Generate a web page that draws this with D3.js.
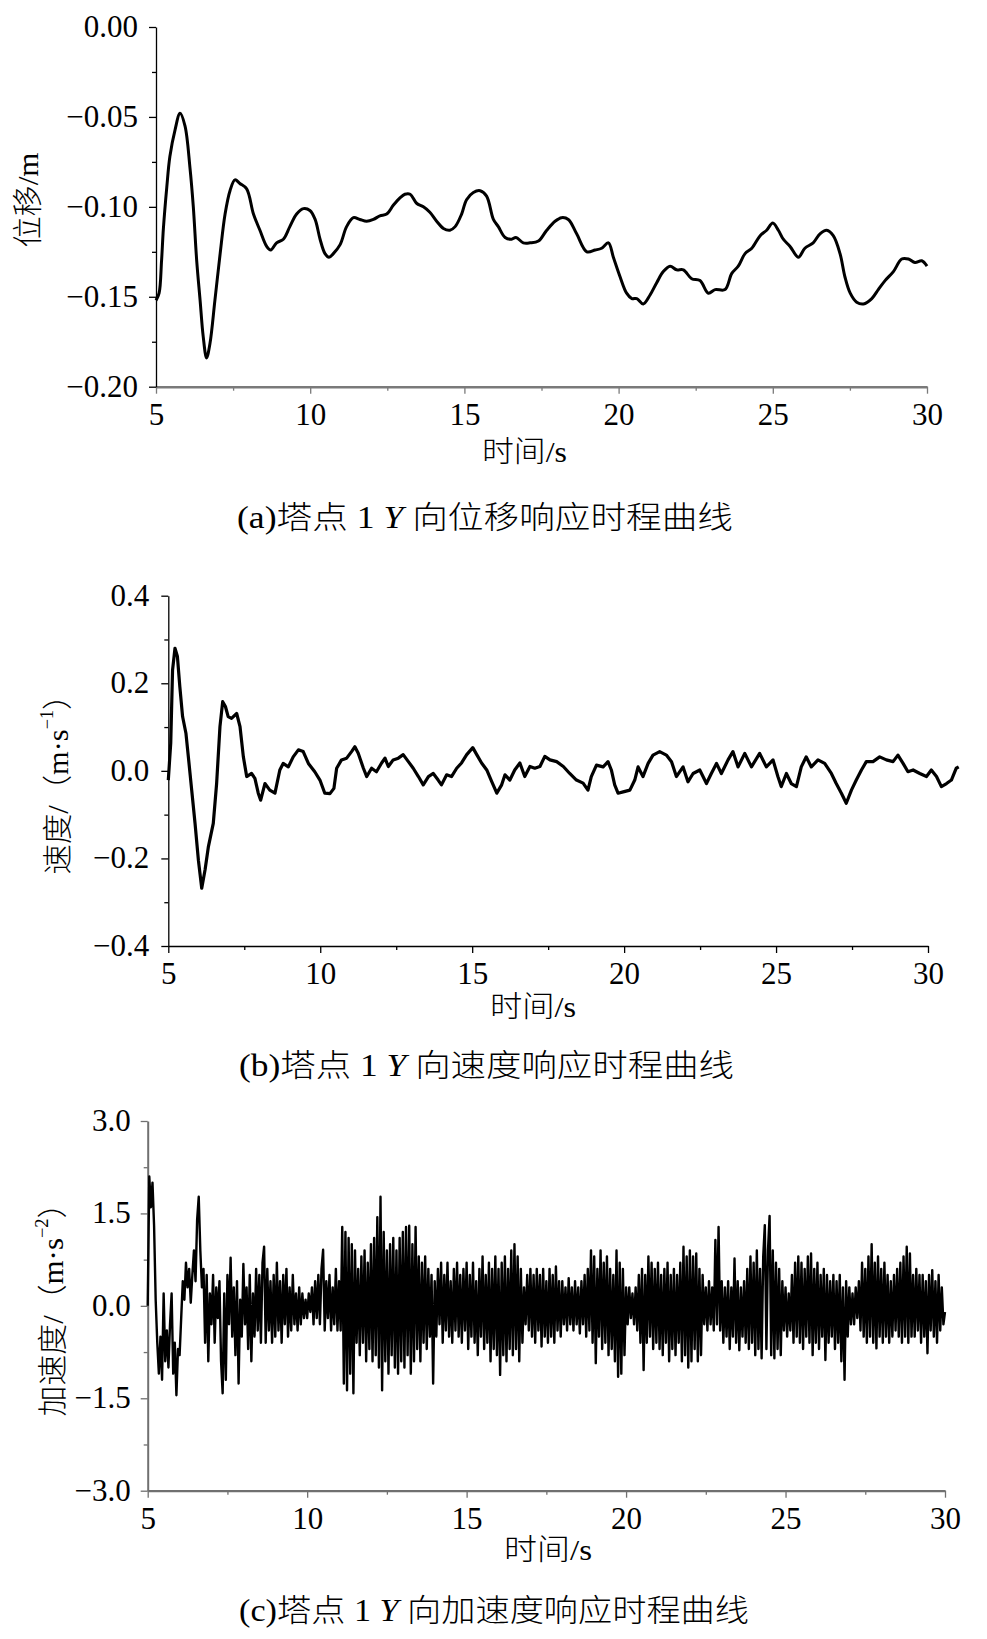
<!DOCTYPE html>
<html><head><meta charset="utf-8">
<script src="https://cdn.jsdelivr.net/npm/d3@7"></script>
<style>
body{margin:0;background:#fff;}
</style></head><body>
<svg id="c" width="987" height="1639" xmlns="http://www.w3.org/2000/svg"></svg>
<script>
// ---------- tick values ----------
const xTicks=[5,10,15,20,25,30];
const xMinor=[7.5,12.5,17.5,22.5,27.5];
const dispTicks=[0,-0.05,-0.10,-0.15,-0.20];
const dispMinor=[-0.025,-0.075,-0.125,-0.175];
const velTicks=[0.4,0.2,0,-0.2,-0.4];
const velMinor=[0.3,0.1,-0.1,-0.3];
const accTicks=[3,1.5,0,-1.5,-3];
const accMinor=[2.25,0.75,-0.75,-2.25];

// ---------- (a) displacement ----------
const dispTime=[5.00,5.10,5.18,5.24,5.35,5.45,5.62,5.78,5.94,6.10,6.21,6.32,6.43,6.53,6.64,6.75,6.91,7.08,7.24,7.40,
7.56,7.72,7.94,8.16,8.37,8.59,8.72,8.91,9.13,9.34,9.56,9.78,9.99,10.16,10.32,10.48,10.61,10.75,10.97,11.18,
11.40,11.61,11.83,12.05,12.26,12.48,12.70,12.91,13.07,13.24,13.45,13.67,13.88,14.10,14.32,14.53,14.70,14.91,15.07,15.29,
15.51,15.72,15.94,16.10,16.32,16.53,16.67,16.91,17.13,17.40,17.67,17.94,18.15,18.37,18.64,18.97,19.24,19.45,19.67,19.83,
20.05,20.26,20.43,20.59,20.80,21.02,21.24,21.45,21.67,21.88,22.10,22.37,22.64,22.91,23.13,23.45,23.67,23.88,24.10,24.32,
24.59,24.80,25.00,25.18,25.34,25.56,25.83,26.04,26.31,26.53,26.75,26.96,27.18,27.34,27.51,27.72,27.94,28.21,28.42,28.64,
28.91,29.18,29.40,29.61,29.83,30.00];
const dispValue=[-0.152,-0.148,-0.130,-0.112,-0.089,-0.072,-0.057,-0.048,-0.055,-0.078,-0.100,-0.130,-0.152,-0.172,-0.184,-0.176,-0.152,-0.126,-0.104,-0.091,
-0.085,-0.087,-0.090,-0.104,-0.113,-0.122,-0.124,-0.120,-0.118,-0.111,-0.104,-0.101,-0.102,-0.107,-0.118,-0.126,-0.128,-0.126,-0.121,-0.111,
-0.106,-0.107,-0.108,-0.107,-0.105,-0.104,-0.099,-0.095,-0.093,-0.093,-0.098,-0.100,-0.103,-0.108,-0.112,-0.113,-0.111,-0.104,-0.096,-0.092,
-0.091,-0.094,-0.107,-0.111,-0.117,-0.118,-0.117,-0.120,-0.120,-0.119,-0.113,-0.108,-0.106,-0.107,-0.115,-0.125,-0.124,-0.123,-0.120,-0.128,
-0.139,-0.148,-0.151,-0.151,-0.154,-0.149,-0.142,-0.136,-0.133,-0.135,-0.135,-0.140,-0.141,-0.148,-0.146,-0.146,-0.137,-0.133,-0.126,-0.123,
-0.116,-0.113,-0.109,-0.113,-0.118,-0.122,-0.128,-0.123,-0.120,-0.115,-0.113,-0.116,-0.126,-0.139,-0.148,-0.153,-0.154,-0.151,-0.146,-0.141,
-0.136,-0.129,-0.129,-0.131,-0.130,-0.133];

// ---------- (b) velocity ----------
const velTime=[5.00,5.08,5.14,5.22,5.30,5.38,5.47,5.58,5.66,5.77,5.88,5.99,6.10,6.21,6.32,6.48,6.59,6.70,6.79,6.88,
6.97,7.08,7.25,7.36,7.47,7.58,7.74,7.85,7.96,8.04,8.18,8.34,8.51,8.67,8.78,8.95,9.11,9.28,9.44,9.61,
9.82,9.99,10.15,10.32,10.45,10.54,10.70,10.87,11.03,11.14,11.25,11.42,11.53,11.69,11.85,12.02,12.13,12.24,12.40,12.57,
12.73,12.90,13.06,13.23,13.39,13.56,13.72,13.88,13.99,14.16,14.32,14.49,14.65,14.82,15.02,15.15,15.31,15.48,15.64,15.81,
15.97,16.08,16.24,16.40,16.57,16.73,16.90,17.06,17.23,17.39,17.56,17.78,18.00,18.21,18.43,18.65,18.81,18.92,19.09,19.31,
19.47,19.58,19.69,19.80,19.97,20.19,20.35,20.46,20.62,20.79,20.95,21.17,21.39,21.56,21.72,21.94,22.10,22.27,22.49,22.71,
22.87,23.04,23.20,23.42,23.58,23.75,23.97,24.19,24.46,24.68,24.90,25.06,25.17,25.34,25.50,25.67,25.83,25.99,26.16,26.38,
26.60,26.82,26.98,27.15,27.31,27.48,27.64,27.81,27.97,28.19,28.41,28.63,28.85,29.01,29.18,29.34,29.51,29.73,29.95,30.11,
30.28,30.44,30.61,30.77,30.93,31.01];
const velValue=[-0.021,0.063,0.230,0.280,0.261,0.192,0.124,0.086,0.032,-0.044,-0.120,-0.204,-0.268,-0.226,-0.173,-0.120,-0.029,0.101,0.158,0.147,
0.124,0.120,0.131,0.101,0.032,-0.013,-0.006,-0.017,-0.051,-0.067,-0.029,-0.044,-0.051,0.002,0.017,0.009,0.032,0.048,0.044,0.017,
-0.002,-0.021,-0.051,-0.052,-0.040,0.006,0.025,0.029,0.044,0.055,0.040,0.006,-0.013,0.006,-0.002,0.018,0.029,0.010,0.025,0.029,
0.037,0.021,0.006,-0.013,-0.032,-0.013,-0.006,-0.021,-0.032,-0.009,-0.013,0.006,0.018,0.037,0.053,0.037,0.018,0.002,-0.024,-0.051,
-0.032,-0.009,-0.021,0.002,0.018,-0.013,0.010,0.006,0.010,0.033,0.025,0.021,0.010,-0.006,-0.021,-0.028,-0.044,-0.013,0.013,0.009,
0.021,0.002,-0.032,-0.051,-0.048,-0.044,-0.021,0.009,-0.013,0.017,0.036,0.044,0.036,0.021,-0.013,0.009,-0.025,-0.006,0.002,-0.029,
-0.006,0.017,-0.006,0.025,0.044,0.009,0.040,0.009,0.040,0.009,0.025,-0.013,-0.036,-0.006,-0.029,-0.036,0.009,0.032,0.009,0.025,
0.017,-0.006,-0.029,-0.051,-0.074,-0.044,-0.021,0.002,0.021,0.021,0.032,0.025,0.021,0.036,0.017,-0.002,0.002,-0.006,-0.013,0.002,
-0.013,-0.036,-0.029,-0.021,0.006,0.009];

// ---------- (c) acceleration, sampled every 0.05 s from 5.00 s ----------
const accStart=5.0, accStep=0.05;
const accValue=[
0.0,2.1,1.6,2.0,1.3,0.1,-0.6,-1.1,-0.5,-1.2,0.2,-0.9,-0.4,-1.0,-0.3,0.2,-1.1,-0.6,-1.45,-0.7,
-0.8,-0.2,0.4,0.1,0.7,0.3,0.6,0.05,0.5,0.9,0.4,1.4,1.77,0.9,0.3,0.6,-0.6,0.5,-0.9,0.2,
-0.3,0.5,-0.6,0.3,-0.2,0.4,-0.9,-1.42,0.2,-1.2,0.5,-0.3,0.78,-0.5,0.3,-0.8,0.4,-1.26,0.1,-0.5,
0.68,-0.3,0.3,-0.7,0.5,-0.9,0.2,-0.5,0.6,-0.4,0.5,-0.6,0.7,0.96,-0.6,0.6,-0.4,0.4,-0.6,0.5,
-0.5,0.7,-0.4,0.4,-0.6,0.5,-0.3,0.6,-0.5,0.3,-0.4,0.5,-0.3,0.2,-0.4,0.3,-0.3,0.2,-0.2,0.1,
-0.2,0.2,-0.1,0.3,-0.3,0.4,-0.2,0.5,-0.3,0.6,0.91,-0.4,0.4,-0.2,0.5,-0.4,0.3,-0.3,0.6,-0.4,
0.4,-0.4,1.28,-1.26,1.2,-1.37,1.1,-1.1,1.0,-1.42,0.9,-0.6,0.6,-0.8,0.8,-0.6,0.9,-0.9,0.7,-0.7,
1.0,-0.9,1.1,-0.8,1.44,-1.0,1.77,-1.37,1.2,-0.9,0.9,-1.1,1.0,-0.8,1.1,-1.0,0.9,-1.1,1.1,-0.9,
1.2,-1.0,1.28,-0.8,1.3,-1.1,1.0,-0.9,1.28,-0.7,0.8,-0.9,0.7,-0.6,0.8,-0.7,0.6,-0.5,0.5,-1.26,
0.4,-0.5,0.6,-0.3,0.7,-0.6,0.5,-0.4,0.7,-0.5,0.4,-0.6,0.6,-0.4,0.7,-0.5,0.5,-0.6,0.6,-0.4,
0.7,-0.7,0.5,-0.5,0.7,-0.6,0.4,-0.8,0.6,-0.5,0.8,-0.7,0.5,-0.6,0.7,-0.9,0.6,-0.7,0.8,-0.8,
0.6,-1.12,0.7,-0.8,0.8,-0.9,0.6,-0.7,0.9,-0.8,1.0,-0.7,0.8,-0.9,0.6,-0.6,0.3,-0.3,0.5,-0.4,
0.6,-0.5,0.5,-0.6,0.6,-0.4,0.5,-0.66,0.6,-0.5,0.4,-0.6,0.6,-0.5,0.5,-0.6,0.64,-0.4,0.4,-0.5,
0.4,-0.3,0.3,-0.4,0.45,-0.3,0.3,-0.4,0.4,-0.3,0.3,-0.45,0.4,-0.3,0.5,-0.5,0.6,-0.4,0.9,-0.6,
0.8,-0.93,0.6,-0.5,0.9,-0.7,0.7,-0.6,0.8,-0.8,0.6,-0.7,0.5,-0.9,0.9,-1.15,0.7,-1.1,0.6,-0.8,
0.3,-0.3,0.3,-0.2,0.2,-0.3,0.3,-0.4,0.5,-0.6,0.6,-1.04,0.5,-0.6,0.8,-0.5,0.7,-0.7,0.6,-0.6,
0.7,-0.7,0.5,-0.8,0.6,-0.6,0.7,-0.9,0.5,-0.7,0.6,-0.8,0.5,-0.6,0.7,-0.9,0.96,-0.8,0.8,-1.0,
0.9,-0.9,0.8,-0.7,0.85,-0.9,0.6,-0.8,0.5,-0.3,0.3,-0.4,0.4,-0.3,0.3,-0.4,1.07,-0.3,1.28,-0.4,
0.4,-0.6,0.3,-0.5,0.4,-0.7,0.3,-0.5,0.77,-0.6,0.4,-0.72,0.3,-0.5,0.4,-0.6,0.6,-0.7,0.8,-0.6,
0.7,-0.8,0.9,-0.7,0.6,-0.85,0.8,1.31,-0.7,0.9,1.46,-0.8,0.9,-0.85,0.7,-0.7,0.6,-0.8,0.4,-0.4,
0.3,-0.5,0.2,-0.4,0.5,-0.6,0.7,-0.5,0.8,-0.6,0.7,-0.7,0.6,-0.5,0.8,-0.6,0.85,-0.8,0.6,-0.6,
0.7,-0.7,0.5,-0.5,0.6,-0.88,0.5,-0.6,0.4,-0.5,0.5,-0.7,0.4,-0.6,0.5,-0.9,0.3,-1.2,0.4,-0.5,
0.3,-0.3,0.2,-0.3,0.3,-0.2,0.4,-0.4,0.7,-0.5,0.6,-0.6,0.8,-0.5,1.0,-0.6,0.7,-0.69,0.8,-0.5,
0.6,-0.6,0.7,-0.5,0.5,-0.6,0.4,-0.5,0.5,-0.4,0.6,-0.5,0.7,-0.6,0.8,-0.5,0.96,-0.6,0.85,-0.5,
0.5,-0.5,0.6,-0.4,0.5,-0.6,0.5,-0.5,0.4,-0.77,0.5,-0.4,0.58,-0.5,0.4,-0.6,0.5,-0.4,0.3,-0.3,
-0.1];

const SERIF='"Liberation Serif","Times New Roman","DejaVu Serif",serif';
const MIXED='"Liberation Serif","Times New Roman","Noto Sans CJK SC",serif';
const svg=d3.select('#c');

function drawPanel(o){
  const x=d3.scaleLinear().domain([5,30]).range([o.left,o.right]);
  const y=d3.scaleLinear().domain([o.yMin,o.yMax]).range([o.bottom,o.top]);
  const g=svg.append('g');

  // x axis minor ticks
  g.append('g').attr('transform',`translate(0,${o.bottom})`)
    .call(d3.axisBottom(x).tickValues(xMinor).tickSize(4).tickSizeOuter(0).tickFormat(''))
    .call(s=>{s.select('.domain').remove();s.selectAll('line').attr('stroke',o.xColor).attr('stroke-width',1.3);});
  // x axis major
  g.append('g').attr('transform',`translate(0,${o.bottom})`)
    .call(d3.axisBottom(x).tickValues(xTicks).tickSize(7).tickSizeOuter(0).tickFormat(d3.format('d')))
    .call(s=>{
      s.select('.domain').attr('stroke',o.xColor).attr('stroke-width',o.xWidth);
      s.selectAll('line').attr('stroke',o.xColor).attr('stroke-width',1.3);
      s.selectAll('text').attr('y',38).attr('dy',0)
        .style('font-family',SERIF).style('font-size','31px').style('fill','#000');
    });
  // y axis minor
  g.append('g').attr('transform',`translate(${o.left},0)`)
    .call(d3.axisLeft(y).tickValues(o.yMinor).tickSize(4).tickSizeOuter(0).tickFormat(''))
    .call(s=>{s.select('.domain').remove();s.selectAll('line').attr('stroke',o.yColor).attr('stroke-width',1.3);});
  // y axis major
  g.append('g').attr('transform',`translate(${o.left},0)`)
    .call(d3.axisLeft(y).tickValues(o.yTicks).tickSize(7).tickSizeOuter(0).tickFormat(d3.format(o.fmt)))
    .call(s=>{
      s.select('.domain').attr('stroke',o.yColor).attr('stroke-width',o.yWidth);
      s.selectAll('line').attr('stroke',o.yColor).attr('stroke-width',1.3);
      s.selectAll('text').attr('x',-o.labelGap).attr('dy','0.3em')
        .style('font-family',SERIF).style('font-size','31px').style('fill','#000');
    });

  // data line
  const line=d3.line().x(d=>x(d[0])).y(d=>y(d[1]));
  if(o.curve) line.curve(o.curve);
  g.append('path').datum(o.data).attr('d',line)
    .attr('fill','none').attr('stroke','#000').attr('stroke-width',o.lineWidth)
    .attr('stroke-linejoin','round');

  // x axis title
  g.append('text').attr('x',o.xt[0]).attr('y',o.xt[1]).attr('text-anchor','middle')
    .style('font-family',MIXED).style('font-size','29px').style('font-weight',300).style('fill','#000')
    .attr('textLength',o.xt[2]).attr('lengthAdjust','spacingAndGlyphs')
    .text('时间/s');

  // y axis title (rotated)
  const yt=g.append('text').attr('transform',`translate(${o.yt[0]},${o.yt[1]}) rotate(-90)`)
    .attr('text-anchor','middle').attr('dominant-baseline','central')
    .style('font-family',MIXED).style('font-size','30px').style('font-weight',300).style('fill','#000')
    .attr('textLength',o.yt[2]).attr('lengthAdjust','spacingAndGlyphs');
  o.ytParts.forEach(p=>{
    const t=yt.append('tspan').text(p.t);
    if(p.sup) t.attr('baseline-shift','super').style('font-size','18px');
  });

  // caption
  const cap=g.append('text').attr('x',o.cap[0]).attr('y',o.cap[1]).attr('text-anchor','middle')
    .style('font-family',MIXED).style('font-size','31px').style('font-weight',300).style('fill','#000')
    .attr('textLength',o.cap[2]).attr('lengthAdjust','spacingAndGlyphs');
  o.capParts.forEach(p=>{
    const t=cap.append('tspan').text(p.t);
    if(p.it) t.style('font-style','italic');
  });
}

drawPanel({
  left:156,right:927,top:27,bottom:386.7,yMin:-0.2,yMax:0,
  yTicks:dispTicks,yMinor:dispMinor,fmt:'.2f',labelGap:18,
  xColor:'#7a7a7a',xWidth:2.6,yColor:'#000',yWidth:1.3,
  data:dispTime.map((t,i)=>[t,dispValue[i]]),lineWidth:3,curve:d3.curveCatmullRom,
  xt:[524.5,462,85],
  yt:[27,200,95],ytParts:[{t:'位移/m'}],
  cap:[485,528,496],capParts:[{t:'(a)塔点 1 '},{t:'Y',it:true},{t:' 向位移响应时程曲线'}]
});

drawPanel({
  left:168.3,right:928,top:595.7,bottom:946,yMin:-0.4,yMax:0.4,
  yTicks:velTicks,yMinor:velMinor,fmt:'.1f',labelGap:19,
  xColor:'#000',xWidth:1.5,yColor:'#000',yWidth:1.3,
  data:velTime.map((t,i)=>[t,velValue[i]]),lineWidth:3.2,
  xt:[533,1017,86],
  yt:[57,777,195],ytParts:[{t:'速度/（m·s'},{t:'−1',sup:true},{t:'）'}],
  cap:[486.5,1076,495],capParts:[{t:'(b)塔点 1 '},{t:'Y',it:true},{t:' 向速度响应时程曲线'}]
});

drawPanel({
  left:147.7,right:945,top:1121,bottom:1490.7,yMin:-3,yMax:3,
  yTicks:accTicks,yMinor:accMinor,fmt:'.1f',labelGap:17,
  xColor:'#707070',xWidth:2.2,yColor:'#707070',yWidth:2,
  data:accValue.map((v,i)=>[accStart+i*accStep,v]),lineWidth:2.4,
  xt:[548,1560,88],
  yt:[52,1302,229],ytParts:[{t:'加速度/（m·s'},{t:'−2',sup:true},{t:'）'}],
  cap:[494,1621,510],capParts:[{t:'(c)塔点 1 '},{t:'Y',it:true},{t:' 向加速度响应时程曲线'}]
});
</script>
</body></html>
